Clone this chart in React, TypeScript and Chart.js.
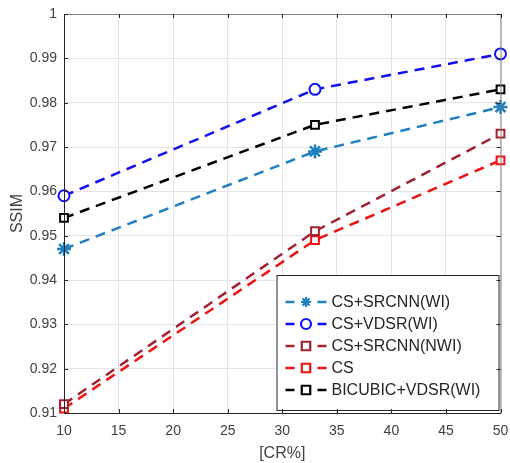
import React, { useEffect, useRef } from "react";
import { Chart, registerables } from "chart.js";

Chart.register(...registerables);

const crValues = [10, 33, 50];
const srcnnWI = [0.947, 0.969, 0.979];
const vdsrWI = [0.959, 0.983, 0.991];
const srcnnNWI = [0.912, 0.951, 0.973];
const csOnly = [0.911, 0.949, 0.967];
const bicubicVDSR = [0.954, 0.975, 0.983];

const seriesNames = ["CS+SRCNN(WI)", "CS+VDSR(WI)", "CS+SRCNN(NWI)", "CS", "BICUBIC+VDSR(WI)"];
const seriesColors = ["#1f80bf", "#1010f0", "#a2202f", "#f01010", "#000000"];
const seriesMarkers = ["star", "circle", "rect", "rect", "rect"];
const seriesValues = [srcnnWI, vdsrWI, srcnnNWI, csOnly, bicubicVDSR];

const xTicks = [10, 15, 20, 25, 30, 35, 40, 45, 50];
const yTicks = [0.91, 0.92, 0.93, 0.94, 0.95, 0.96, 0.97, 0.98, 0.99, 1];

const FONT = "'Liberation Sans', Arial, sans-serif";

function drawMarker(ctx: CanvasRenderingContext2D, style: string, x: number, y: number, r: number) {
  ctx.beginPath();
  if (style === "circle") {
    ctx.arc(x, y, r, 0, Math.PI * 2);
    ctx.fillStyle = "#fff";
    ctx.fill();
    ctx.stroke();
  } else if (style === "rect") {
    ctx.rect(x - r * 0.85, y - r * 0.85, r * 1.7, r * 1.7);
    ctx.fillStyle = "#fff";
    ctx.fill();
    ctx.stroke();
  } else {
    for (let i = 0; i < 4; i++) {
      const a = (i * Math.PI) / 4;
      ctx.moveTo(x - Math.cos(a) * r, y - Math.sin(a) * r);
      ctx.lineTo(x + Math.cos(a) * r, y + Math.sin(a) * r);
    }
    ctx.stroke();
  }
}

const boxPlugin = {
  id: "matlabBox",
  afterDatasetsDraw(chart: any) {
    const { ctx, chartArea } = chart;
    const { left, right, top, bottom } = chartArea;
    const xs = chart.scales.x;
    const ys = chart.scales.y;
    ctx.save();
    // legend
    const bx = right - 224;
    const by = bottom - 138;
    const bw = 222;
    const bh = 135;
    ctx.fillStyle = "#fff";
    ctx.fillRect(bx, by, bw, bh);
    ctx.strokeStyle = "#262626";
    ctx.lineWidth = 1;
    ctx.strokeRect(bx + 0.5, by + 0.5, bw, bh);
    ctx.font = `16px ${FONT}`;
    ctx.textBaseline = "middle";
    ctx.textAlign = "left";
    for (let i = 0; i < seriesNames.length; i++) {
      const cy = by + 27 + i * 22;
      const col = seriesColors[i];
      ctx.strokeStyle = col;
      ctx.lineWidth = 2.5;
      ctx.setLineDash([]);
      ctx.beginPath();
      ctx.moveTo(bx + 9, cy);
      ctx.lineTo(bx + 18, cy);
      ctx.moveTo(bx + 41, cy);
      ctx.lineTo(bx + 50, cy);
      ctx.stroke();
      ctx.lineWidth = 2.2;
      drawMarker(ctx, seriesMarkers[i], bx + 29.5, cy, 5);
      ctx.fillStyle = "#262626";
      ctx.fillText(seriesNames[i], bx + 55, cy + 1);
    }
    // axes box
    ctx.strokeStyle = "#262626";
    ctx.lineWidth = 1;
    ctx.beginPath();
    ctx.moveTo(left + 0.5, top + 0.5);
    ctx.lineTo(left + 0.5, bottom + 0.5);
    ctx.lineTo(right + 0.5, bottom + 0.5);
    ctx.stroke();
    ctx.strokeStyle = "#808080";
    ctx.beginPath();
    ctx.moveTo(left + 0.5, top + 0.5);
    ctx.lineTo(right + 0.5, top + 0.5);
    ctx.lineTo(right + 0.5, bottom + 0.5);
    ctx.stroke();
    ctx.strokeStyle = "#262626";
    ctx.beginPath();
    for (const t of xTicks) {
      const px = Math.round(xs.getPixelForValue(t)) + 0.5;
      ctx.moveTo(px, bottom);
      ctx.lineTo(px, bottom - 4);
      ctx.moveTo(px, top);
      ctx.lineTo(px, top + 4);
    }
    for (const t of yTicks) {
      const py = Math.round(ys.getPixelForValue(t)) + 0.5;
      ctx.moveTo(left, py);
      ctx.lineTo(left + 4, py);
      ctx.moveTo(right, py);
      ctx.lineTo(right - 4, py);
    }
    ctx.stroke();
    ctx.restore();
  },
};

export default function App() {
  const ref = useRef<HTMLCanvasElement | null>(null);
  useEffect(() => {
    if (!ref.current) return;
    const chart = new Chart(ref.current, {
      type: "line",
      data: {
        datasets: seriesNames.map((name, i) => ({
          label: name,
          data: crValues.map((x, j) => ({ x, y: seriesValues[i][j] })),
          borderColor: seriesColors[i],
          backgroundColor: "#ffffff",
          borderWidth: 2.5,
          borderDash: [10, 7],
          pointStyle: seriesMarkers[i] as any,
          pointRadius: seriesMarkers[i] === "star" ? 7 : 5.5,
          pointBorderWidth: seriesMarkers[i] === "star" ? 2.5 : 2,
          pointBorderColor: seriesColors[i],
          pointBackgroundColor: "#ffffff",
          tension: 0,
          clip: false as any,
        })),
      },
      plugins: [boxPlugin],
      options: {
        animation: false,
        responsive: false,
        layout: { padding: { left: 0, right: 8, top: 14, bottom: 0 } },
        plugins: { legend: { display: false }, tooltip: { enabled: false } },
        scales: {
          x: {
            type: "linear",
            min: 10,
            max: 50,
            afterBuildTicks: (s: any) => {
              s.ticks = xTicks.map((v) => ({ value: v }));
            },
            afterFit: (s: any) => {
              s.height = 50;
              s.paddingLeft = 0;
              s.paddingRight = 0;
            },
            grid: { color: "#e3e3e3", drawTicks: false, lineWidth: 1 },
            border: { display: false },
            ticks: {
              color: "#404040",
              font: { family: FONT, size: 14 },
              padding: 10,
              maxRotation: 0,
              callback: (v: any) => String(v),
            },
            title: {
              display: true,
              text: "[CR%]",
              color: "#404040",
              font: { family: FONT, size: 16 },
              padding: { top: 0, bottom: 0 },
            },
          },
          y: {
            type: "linear",
            min: 0.91,
            max: 1,
            afterBuildTicks: (s: any) => {
              s.ticks = yTicks.map((v) => ({ value: v }));
            },
            afterFit: (s: any) => {
              s.width = 64;
              s.paddingTop = 0;
              s.paddingBottom = 0;
            },
            grid: { color: "#e3e3e3", drawTicks: false, lineWidth: 1 },
            border: { display: false },
            ticks: {
              color: "#404040",
              font: { family: FONT, size: 14 },
              padding: 7,
              callback: (v: any) => String(Math.round(Number(v) * 100) / 100),
            },
            title: {
              display: true,
              text: "SSIM",
              color: "#404040",
              font: { family: FONT, size: 16 },
              padding: { top: 8, bottom: 0 },
            },
          },
        },
      },
    });
    return () => chart.destroy();
  }, []);
  return (
    <div style={{ position: "fixed", left: 0, top: 0, width: 510, height: 463, background: "#fff" }}>
      <canvas ref={ref} width={510} height={463} style={{ width: 510, height: 463 }} />
    </div>
  );
}
